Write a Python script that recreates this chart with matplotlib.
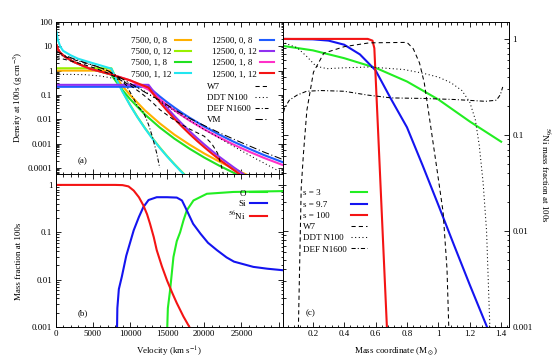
import numpy as np
import matplotlib.pyplot as plt
from matplotlib.ticker import MultipleLocator, LogLocator, FuncFormatter, NullFormatter

plt.rcParams['font.family'] = ['Liberation Serif', 'DejaVu Serif']
plt.rcParams['mathtext.fontset'] = 'stix'
plt.rcParams['font.size'] = 6.5
plt.rcParams['axes.linewidth'] = 0.7

# ---- panel (a): density at 100 s vs velocity ----
v_o = [0, 7500, 8000, 9000, 10000, 12000, 14000, 16000, 18000, 20000, 22000, 24000, 26000]
rho_o = [1.0, 1.0, 0.6, 0.233, 0.1, 0.0233, 0.0068, 0.0023, 9.1e-4, 3.9e-4, 1.83e-4, 9.1e-5, 4.8e-5]

v_yg = [0, 7500, 8000, 9000, 10000, 11000, 12000, 13000, 14000, 15000, 16000, 17000, 17500]
rho_yg = [1.25, 1.25, 0.576, 0.14, 0.0396, 0.0126, 0.00444, 0.0017, 7.0e-4, 3.05e-4, 1.41e-4, 6.8e-5, 4.8e-5]

v_g = [130, 300, 600, 1250, 2400, 4600, 7500, 8000, 9000, 10000, 12000, 14000, 16000, 18000,
       20000, 22000, 24000, 24500]
rho_g = [11, 7.5, 5.5, 3.7, 2.3, 1.2, 0.68, 0.406, 0.158, 0.068, 0.0158, 0.0046, 0.00158, 6.2e-4,
         2.66e-4, 1.24e-4, 6.2e-5, 5.2e-5]

v_c = [100, 300, 600, 1000, 2000, 3000, 4600, 6000, 7500, 8000, 9000, 10000, 11000, 12000, 13000,
       14000, 15000, 16000, 17000, 17500]
rho_c = [40, 18, 10, 6.5, 4.3, 3.1, 2.2, 1.65, 1.2, 0.55, 0.134, 0.038, 0.0121, 0.00426, 0.00163,
         6.7e-4, 2.93e-4, 1.36e-4, 6.5e-5, 4.6e-5]

v_b = [0, 12500, 13000, 14000, 15000, 16000, 17000, 18000, 20000, 22000, 24000, 26000, 28000, 30600]
rho_b = [0.216, 0.216, 0.158, 0.0873, 0.0502, 0.030, 0.0184, 0.0117, 0.00503, 0.00235, 0.00117,
         6.2e-4, 3.4e-4, 1.7e-4]

v_p = [0, 12500, 13000, 14000, 15000, 16000, 17000, 18000, 19000, 20000, 21000, 22000, 23000,
       24000, 25000, 26000]
rho_p = [0.26, 0.26, 0.162, 0.0667, 0.0292, 0.0134, 0.0065, 0.00327, 0.00171, 9.2e-4, 5.1e-4,
         2.9e-4, 1.72e-4, 1.03e-4, 6.3e-5, 4.0e-5]

v_m = [130, 300, 600, 1250, 2400, 4600, 7300, 10000, 12500, 13000, 14000, 15000, 16000, 17000,
       18000, 20000, 22000, 24000, 26000, 28000, 30600]
rho_m = [11, 7.5, 5.5, 3.7, 2.3, 1.2, 0.72, 0.4, 0.165, 0.12, 0.0667, 0.0384, 0.0229, 0.0141,
         0.0089, 0.00384, 0.0018, 8.9e-4, 4.7e-4, 2.6e-4, 1.3e-4]

v_r = [130, 300, 600, 1250, 2400, 4600, 7300, 10000, 12500, 13000, 14000, 15000, 16000, 17000,
       18000, 19000, 20000, 21000, 22000, 23000, 24000, 25000]
rho_r = [11, 7.5, 5.5, 3.7, 2.3, 1.2, 0.72, 0.4, 0.2, 0.125, 0.0513, 0.0224, 0.0103, 0.005,
         0.00252, 0.00131, 7.1e-4, 3.96e-4, 2.26e-4, 1.33e-4, 8.0e-5, 4.9e-5]

v_w7 = [0, 1000, 2500, 4000, 5500, 7000, 8500, 10000, 11500, 13000, 14000, 16000, 18000, 20000,
        21000, 21800, 22300, 22600]
rho_w7 = [3.5, 3.0, 2.3, 1.7, 1.2, 0.8, 0.45, 0.25, 0.12, 0.05, 0.025, 0.009, 0.004, 0.002,
          0.001, 4e-4, 1.2e-4, 5e-5]

v_ddt = [0, 2000, 4000, 6000, 7500, 9000, 10500, 12000, 14000, 16000, 18000, 20000, 22000, 24000,
         26000, 28000, 30000]
rho_ddt = [0.7, 0.7, 0.68, 0.6, 0.5, 0.38, 0.25, 0.14, 0.055, 0.022, 0.009, 0.0038, 0.0017,
           7.5e-4, 3.4e-4, 1.6e-4, 7.5e-5]

v_def = [0, 1000, 2500, 4000, 5500, 7000, 8500, 9500, 10500, 11000, 11800, 12500, 13000, 13600, 14000]
rho_def = [5.0, 4.0, 2.8, 2.0, 1.5, 1.0, 0.5, 0.25, 0.07, 0.035, 0.02, 0.006, 0.002, 4e-4, 1e-4]

v_vm = [0, 1000, 2500, 4000, 5500, 7000, 8500, 10000, 12000, 14000, 16000, 18000, 20000, 22000,
        25000, 28000, 30600]
rho_vm = [6.5, 4.5, 3.0, 2.1, 1.5, 1.0, 0.55, 0.3, 0.13, 0.06, 0.025, 0.011, 0.0055, 0.0028,
          0.0011, 4.5e-4, 2.2e-4]

# ---- panel (b): mass fractions vs velocity ----
v_ni = [0, 8000, 9000, 9800, 10500, 11200, 11800, 12300, 12700, 13200, 13600, 14300, 15000,
        15700, 16300, 17200, 18000, 18300]
x_ni = [1.0, 1.0, 0.99, 0.93, 0.76, 0.55, 0.37, 0.24, 0.151, 0.079, 0.042, 0.019, 0.0095,
        0.0052, 0.0032, 0.00166, 0.001, 8e-4]

v_si = [8250, 8300, 8500, 8900, 9500, 10500, 11200, 11800, 12500, 13600, 15000, 16300, 17000,
        17650, 18500, 19500, 20500, 21700, 23000, 24000, 26600, 28500, 30600]
x_si = [8e-4, 0.0025, 0.0063, 0.0115, 0.032, 0.11, 0.21, 0.34, 0.48, 0.55, 0.55, 0.54, 0.47,
        0.29, 0.151, 0.093, 0.06, 0.042, 0.0295, 0.024, 0.0186, 0.017, 0.0158]

v_ox = [15000, 15100, 15400, 15850, 16300, 16750, 17200, 17650, 18550, 20350, 23900, 30600]
x_ox = [8e-4, 0.0025, 0.006, 0.03, 0.065, 0.1, 0.178, 0.29, 0.47, 0.65, 0.71, 0.74]

# ---- panel (c): 56Ni mass fraction vs mass coordinate ----
m_s3 = [0, 0.2, 0.4, 0.6, 0.8, 1.0, 1.2, 1.4]
ni_s3 = [0.85, 0.76, 0.63, 0.5, 0.36, 0.234, 0.138, 0.085]

m_s97 = [0, 0.2, 0.3, 0.4, 0.5, 0.6, 0.7, 0.8, 0.9, 1.0, 1.1, 1.2, 1.31]
ni_s97 = [1.0, 0.99, 0.96, 0.87, 0.69, 0.47, 0.234, 0.12, 0.048, 0.0186, 0.0071, 0.00275, 0.001]

m_s100 = [0, 0.55, 0.58, 0.592, 0.62, 0.65, 0.672]
ni_s100 = [1.0, 1.0, 0.96, 0.8, 0.078, 0.0063, 0.001]

m_w7 = [0.107, 0.118, 0.126, 0.14, 0.162, 0.204, 0.27, 0.4, 0.56, 0.8, 0.84, 0.88, 0.91, 0.95,
        0.99, 1.03, 1.055, 1.068]
ni_w7 = [8e-4, 0.0063, 0.028, 0.063, 0.18, 0.45, 0.71, 0.83, 0.91, 0.92, 0.79, 0.56, 0.35, 0.126,
         0.045, 0.0158, 0.004, 8e-4]

m_ddt = [0, 0.1, 0.16, 0.22, 0.29, 0.4, 0.56, 0.78, 0.9, 1.0, 1.08, 1.15, 1.2, 1.235, 1.26, 1.285,
         1.307, 1.33]
ni_ddt = [0.93, 0.81, 0.66, 0.52, 0.49, 0.5, 0.51, 0.48, 0.44, 0.4, 0.35, 0.29, 0.22, 0.145, 0.079,
          0.032, 0.01, 8e-4]

m_def = [0, 0.02, 0.05, 0.1, 0.16, 0.25, 0.4, 0.55, 0.7, 0.9, 1.1, 1.3, 1.37, 1.395, 1.41]
ni_def = [0.14, 0.19, 0.23, 0.26, 0.285, 0.29, 0.285, 0.26, 0.243, 0.24, 0.234, 0.224, 0.23,
          0.263, 0.316]


def decimal(y, pos):
    return f'{y:g}'


def left_align(fig, leg):
    # make legend text left aligned while the sample lines stay in one column
    fig.canvas.draw()
    r = fig.canvas.get_renderer()
    for col in leg._legend_handle_box.get_children():
        rows = col.get_children()
        widths = [row.get_children()[0].get_bbox(r).width for row in rows]
        for row, w in zip(rows, widths):
            row.sep += (max(widths) - w) / r.points_to_pixels(1.0)


def log_axis(axis):
    axis.set_major_locator(LogLocator(base=10, numticks=20))
    axis.set_minor_locator(LogLocator(base=10, subs=np.arange(2, 10), numticks=100))
    axis.set_major_formatter(FuncFormatter(decimal))
    axis.set_minor_formatter(NullFormatter())


fig = plt.figure(figsize=(5.54, 3.64), dpi=100)
W, H = 554, 364
ax_a = fig.add_axes([55.7 / W, 1 - 174 / H, 227.3 / W, 152 / H])
ax_b = fig.add_axes([55.7 / W, 1 - 327 / H, 227.3 / W, 153 / H])
ax_c = fig.add_axes([283 / W, 1 - 327 / H, 226 / W, 305 / H])

lw = 1.5
klw = 0.75
c_or, c_yg, c_gr, c_cy = '#ffb000', '#98f000', '#22e022', '#22e6f0'
c_bl, c_pu, c_mg, c_rd = '#1f5cff', '#9030f0', '#ff30c8', '#f41414'

ax_a.plot(v_o, rho_o, color=c_or, lw=lw, label='7500, 0, 8')
ax_a.plot(v_yg, rho_yg, color=c_yg, lw=lw, label='7500, 0, 12')
ax_a.plot(v_g, rho_g, color=c_gr, lw=lw, label='7500, 1, 8')
ax_a.plot(v_c, rho_c, color=c_cy, lw=lw, label='7500, 1, 12')
ax_a.plot(v_b, rho_b, color=c_bl, lw=lw, label='12500, 0, 8')
ax_a.plot(v_p, rho_p, color=c_pu, lw=lw, label='12500, 0, 12')
ax_a.plot(v_m, rho_m, color=c_mg, lw=lw, label='12500, 1, 8')
ax_a.plot(v_r, rho_r, color=c_rd, lw=lw, label='12500, 1, 12')
ax_a.plot(v_w7, rho_w7, color='k', lw=klw, ls=(0, (4, 3)), label='W7')
ax_a.plot(v_ddt, rho_ddt, color='k', lw=klw, ls=(0, (1, 2.5)), label='DDT N100')
ax_a.plot(v_def, rho_def, color='k', lw=klw, ls=(0, (4, 2, 1, 2)), label='DEF N1600')
ax_a.plot(v_vm, rho_vm, color='k', lw=klw, ls=(0, (7, 2.5, 1, 2.5)), label='VM')

ax_b.plot(v_ox, x_ox, color='#22ee22', lw=lw, label='O')
ax_b.plot(v_si, x_si, color='#1414f0', lw=lw, label='Si')
ax_b.plot(v_ni, x_ni, color='#f41414', lw=lw, label='$^{56}$Ni')

ax_c.plot(m_s3, ni_s3, color='#22ee22', lw=lw, label='s = 3')
ax_c.plot(m_s97, ni_s97, color='#1414f0', lw=lw, label='s = 9.7')
ax_c.plot(m_s100, ni_s100, color='#f41414', lw=lw, label='s = 100')
ax_c.plot(m_w7, ni_w7, color='k', lw=klw, ls=(0, (4, 3)), label='W7')
ax_c.plot(m_ddt, ni_ddt, color='k', lw=klw, ls=(0, (1, 2.5)), label='DDT N100')
ax_c.plot(m_def, ni_def, color='k', lw=klw, ls=(0, (4, 2, 1, 2)), label='DEF N1600')

for ax in (ax_a, ax_b, ax_c):
    ax.set_yscale('log')
    ax.tick_params(which='both', direction='in', top=True, right=True, left=True, bottom=True,
                   labelsize=6.5, width=0.6, pad=2.5)
    ax.tick_params(which='major', length=3.6)
    ax.tick_params(which='minor', length=1.8)
    log_axis(ax.yaxis)

for ax in (ax_a, ax_b):
    ax.set_xlim(0, 30600)
    ax.xaxis.set_major_locator(MultipleLocator(5000))
    ax.xaxis.set_minor_locator(MultipleLocator(1000))
    ax.xaxis.set_major_formatter(FuncFormatter(lambda x, p: '' if x > 29000 else f'{x:.0f}'))

ax_a.set_ylim(5.6e-5, 100)
ax_a.tick_params(labelbottom=False)
ax_b.set_ylim(0.001, 1.7)

ax_c.set_xlim(0.01, 1.45)
ax_c.set_ylim(0.001, 1.5)
ax_c.xaxis.set_major_locator(MultipleLocator(0.2))
ax_c.xaxis.set_minor_locator(MultipleLocator(0.04))
ax_c.xaxis.set_major_formatter(FuncFormatter(lambda x, p: '' if x < 0.1 else f'{x:g}'))
ax_c.tick_params(labelleft=False, labelright=True)

# legends
h, l = ax_a.get_legend_handles_labels()
leg_kw = dict(frameon=False, markerfirst=False, fontsize=6.5, borderpad=0, borderaxespad=0,
              labelspacing=0.32, handletextpad=0.45, loc='upper left')
leg1 = ax_a.legend(h[:4], l[:4], bbox_to_anchor=(0.331, 0.905), handlelength=1.7, **leg_kw)
ax_a.add_artist(leg1)
leg2 = ax_a.legend(h[4:8], l[4:8], bbox_to_anchor=(0.686, 0.905), handlelength=1.5, **leg_kw)
ax_a.add_artist(leg2)
leg3 = ax_a.legend(h[8:], l[8:], bbox_to_anchor=(0.666, 0.603), handlelength=1.5, **leg_kw)

leg_b = ax_b.legend(frameon=False, markerfirst=False, fontsize=6.5, borderpad=0, borderaxespad=0,
                    labelspacing=0.2, handletextpad=0.45, handlelength=1.9,
                    loc='upper right', bbox_to_anchor=(0.9296, 0.9))
leg_c = ax_c.legend(bbox_to_anchor=(0.0898, 0.452), handlelength=1.8, **leg_kw)

for leg in (leg1, leg2, leg3, leg_c):
    left_align(fig, leg)

ax_a.text(0.12, 0.086, '(a)', transform=ax_a.transAxes, ha='center', va='center', fontsize=6.5)
ax_b.text(0.12, 0.092, '(b)', transform=ax_b.transAxes, ha='center', va='center', fontsize=6.5)
ax_c.text(0.124, 0.044, '(c)', transform=ax_c.transAxes, ha='center', va='center', fontsize=6.5)

fig.text(18.5 / W, 1 - 97 / H, 'Density at 100s (g cm$^{-3}$)', rotation=90,
         ha='center', va='center', fontsize=6.5)
fig.text(19.5 / W, 1 - 261 / H, 'Mass fraction at 100s', rotation=90,
         ha='center', va='center', fontsize=6.5)
fig.text(169 / W, 1 - 351.5 / H, 'Velocity (km s$^{-1}$)', ha='center', va='center', fontsize=6.5)
fig.text(396 / W, 1 - 350.7 / H, r'Mass coordinate (M$_\odot$)', ha='center', va='center',
         fontsize=6.5)
fig.text(545 / W, 1 - 174.5 / H, '$^{56}$Ni mass fraction at 100s', rotation=270,
         ha='center', va='center', fontsize=6.5)

fig.savefig('out.png', dpi=100)
